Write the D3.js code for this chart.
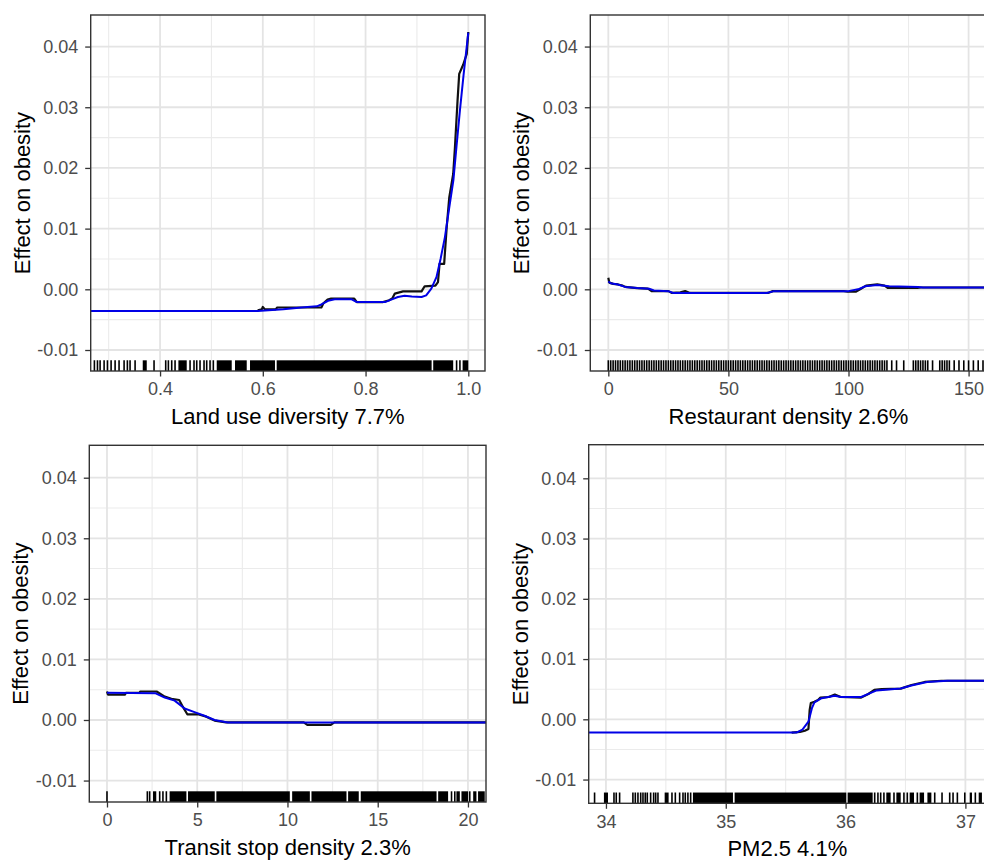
<!DOCTYPE html>
<html>
<head>
<meta charset="utf-8">
<script src="https://cdn.jsdelivr.net/npm/d3@7"></script>
<style>
  html, body { margin: 0; padding: 0; background: #ffffff; }
  svg { display: block; font-family: "Liberation Sans", Arial, sans-serif; }
</style>
</head>
<body>
<svg id="chart" width="984" height="860"></svg>
<script>
// ---- Partial dependence of obesity on four built-environment variables ----

const yTickValues = [-0.01, 0, 0.01, 0.02, 0.03, 0.04];
const yMinorValues = [-0.005, 0.005, 0.015, 0.025, 0.035];
const yTitle = "Effect on obesity";

// Land use diversity
const landUseTitle = "Land use diversity 7.7%";
const landUseTicks = [0.4, 0.6, 0.8, 1.0];
const landUseMinor = [0.3, 0.5, 0.7, 0.9];
const landUsePdp = [
  [0.590, -0.00346], [0.598, -0.00330], [0.600, -0.00290], [0.604, -0.00330],
  [0.625, -0.00330], [0.628, -0.00300], [0.690, -0.00300], [0.714, -0.00300],
  [0.718, -0.00230], [0.726, -0.00170], [0.733, -0.00153], [0.778, -0.00153],
  [0.783, -0.00210], [0.834, -0.00210], [0.846, -0.00180], [0.852, -0.00150],
  [0.857, -0.00070], [0.873, -0.00035], [0.909, -0.00035], [0.915, 0.00050],
  [0.936, 0.00060], [0.941, 0.00120], [0.944, 0.00420], [0.953, 0.00420],
  [0.958, 0.01030], [0.963, 0.01520], [0.9706, 0.01900], [0.974, 0.02340],
  [0.979, 0.03100], [0.9823, 0.03550], [0.990, 0.03700], [0.997, 0.03880],
  [1.000, 0.04240]
];
const landUseSmooth = [
  [0.265, -0.00357], [0.590, -0.00357], [0.640, -0.00330], [0.675, -0.00300],
  [0.705, -0.00280], [0.714, -0.00250], [0.727, -0.00190], [0.740, -0.00165],
  [0.773, -0.00165], [0.783, -0.00210], [0.838, -0.00210], [0.850, -0.00170],
  [0.863, -0.00127], [0.876, -0.00105], [0.890, -0.00120], [0.909, -0.00127],
  [0.918, -0.00100], [0.928, 0.00010], [0.938, 0.00200], [0.946, 0.00500],
  [0.9545, 0.00860], [0.963, 0.01350], [0.971, 0.01800], [0.977, 0.02350],
  [0.9837, 0.02950], [0.991, 0.03550], [1.000, 0.04230]
];
const landUseRug = [
  0.2722, 0.2782, 0.2833, 0.2911, 0.2976, 0.3047, 0.3125, 0.3202, 0.3300,
  0.3364, 0.3416, 0.3514, 0.3883, 0.4110, 0.4162, 0.4227, 0.4292, 0.4584,
  0.4661, 0.4714, 0.4778, 0.4856, 0.4908, 0.4973, 0.5037, 0.9772, 0.9837
];
const landUseRugBands = [
  [0.3663, 0.3741], [0.4357, 0.4519], [0.5103, 0.5395], [0.5459, 0.5687],
  [0.5751, 0.6237], [0.6270, 0.9286], [0.9317, 0.9706], [0.9889, 1.0000]
];

// Restaurant density
const restaurantTitle = "Restaurant density 2.6%";
const restaurantTicks = [0, 50, 100, 150];
const restaurantMinor = [25, 75, 125];
const restaurantPdp = [
  [0, 0.0019], [0.4, 0.0011], [2, 0.0009], [4, 0.0008], [6, 0.0006], [7, 0.0004],
  [12, 0.0002], [16.5, 0.0001], [18, -0.0003], [25, -0.0003], [26.5, -0.0006],
  [30, -0.0005], [32, -0.0003], [34, -0.0006], [66.4, -0.0006], [68.5, -0.0003],
  [98, -0.0003], [99.7, -0.0004], [103, -0.0004], [105.2, 0.0001], [107.3, 0.0006],
  [112, 0.0008], [115, 0.0006], [116.3, 0.00025], [128.7, 0.00025], [130.2, 0.0003],
  [157.5, 0.0003]
];
const restaurantSmooth = [
  [0, 0.0013], [1, 0.0010], [4, 0.0008], [7, 0.0004], [12, 0.0002], [17, 0.0001],
  [19, -0.0002], [25, -0.0003], [27, -0.0006], [66, -0.0006], [69, -0.0003],
  [100, -0.0003], [104, 0.0000], [107, 0.0005], [112, 0.0007], [117, 0.0005],
  [129, 0.0004], [131, 0.0003], [157.5, 0.0003]
];
const restaurantRug = [
  0, 1, 2, 3, 4, 5, 6, 7, 8, 9, 10, 11, 12, 13, 14, 15, 16, 17, 18, 19,
  20, 21, 22, 23, 24, 25, 26, 27, 28, 29, 30, 31, 32, 33, 34, 35, 36, 37, 38, 39,
  40, 41, 42, 43, 44, 45, 46, 47, 48, 49, 50, 51, 52, 53, 54, 55, 56, 57, 58, 59,
  60, 61, 62, 63, 64, 65, 66, 67, 68, 69, 70, 71, 72, 73, 74, 75, 76, 77, 78, 79,
  80, 81, 82, 83, 84, 85, 86, 87, 88, 89, 90, 91, 92, 93, 94, 95, 96, 97, 98, 99,
  100, 101, 102, 103, 104, 105, 106, 107, 108, 109, 110, 111, 112, 113, 114, 115, 116,
  118, 120, 123, 127, 128, 129, 130, 131, 132, 133, 135, 138, 139, 140, 141, 142, 144,
  146, 148, 150, 152, 154, 156
];
const restaurantRugBands = [];

// Transit stop density
const transitTitle = "Transit stop density 2.3%";
const transitTicks = [0, 5, 10, 15, 20];
const transitMinor = [2.5, 7.5, 12.5, 17.5];
const transitPdp = [
  [0, 0.0047], [0.05, 0.0042], [1.0, 0.0042], [1.05, 0.0045], [1.8, 0.0045],
  [1.85, 0.0047], [2.75, 0.0047], [3.2, 0.00385], [3.57, 0.0035], [4.0, 0.0033],
  [4.2, 0.0022], [4.45, 0.00094], [5.04, 0.00094], [5.5, 0.00055], [5.96, -0.0001],
  [6.6, -0.0004], [10.9, -0.0004], [11.1, -0.0008], [12.4, -0.0008], [12.6, -0.0004],
  [21.0, -0.0004]
];
const transitSmooth = [
  [0, 0.0045], [2.7, 0.0044], [3.2, 0.0037], [3.75, 0.0032], [4.3, 0.0019],
  [4.85, 0.0013], [5.4, 0.0007], [5.96, 0.0000], [6.7, -0.0004], [21.0, -0.0004]
];
const transitRug = [0, 2.236, 2.365, 2.92, 3.10, 3.29, 19.09, 19.27, 20.10];
const transitRugBands = [
  [2.55, 2.73], [3.47, 4.40], [4.49, 5.97], [6.06, 10.13], [10.26, 11.24],
  [11.33, 13.27], [13.36, 13.95], [14.06, 18.26], [18.35, 18.90], [19.36, 19.55],
  [19.64, 20.01], [20.29, 20.47], [20.56, 20.93]
];

// PM2.5
const pmTitle = "PM2.5 4.1%";
const pmTicks = [34, 35, 36, 37];
const pmMinor = [34.5, 35.5, 36.5];
const pmPdp = [
  [35.55, -0.0022], [35.62, -0.0021], [35.66, -0.0019], [35.69, -0.0016],
  [35.70, 0.0015], [35.71, 0.0027], [35.74, 0.0029], [35.77, 0.0032],
  [35.79, 0.0036], [35.86, 0.0037], [35.91, 0.0041], [35.96, 0.0037],
  [36.13, 0.0036], [36.19, 0.0042], [36.24, 0.0049], [36.30, 0.0050],
  [36.46, 0.0051], [36.55, 0.0057], [36.66, 0.0062], [36.80, 0.0064], [37.17, 0.0064]
];
const pmSmooth = [
  [33.856, -0.0022], [35.59, -0.0022], [35.64, -0.0017], [35.69, -0.0004],
  [35.72, 0.0019], [35.74, 0.0028], [35.80, 0.0035], [35.91, 0.0039],
  [35.96, 0.0037], [36.13, 0.0037], [36.20, 0.0043], [36.26, 0.0048],
  [36.46, 0.0051], [36.55, 0.0056], [36.68, 0.0062], [36.85, 0.0064], [37.17, 0.0064]
];
const pmRug = [
  33.905, 34.067, 34.086, 34.114, 34.225, 34.245, 34.267, 34.290, 34.309, 34.328,
  34.345, 34.373, 34.398, 34.415, 34.434, 34.551, 34.579, 34.615, 34.643, 34.662,
  34.684, 34.707, 36.243, 36.270, 36.293, 36.320, 36.404, 36.487, 36.515, 36.599,
  36.744, 36.805, 36.869, 36.897, 36.933, 36.995, 37.083
];
const pmRugBands = [
  [33.983, 34.017], [34.490, 34.523], [34.726, 35.060], [35.074, 36.006],
  [36.017, 36.226], [36.340, 36.376], [36.424, 36.460], [36.535, 36.571],
  [36.618, 36.655], [36.683, 36.716], [37.036, 37.055], [37.111, 37.138]
];

// ---- layout of the four panels ----
const panels = [
  { id: "p1", box: [90.7, 15, 485, 371], xDomain: [0.265, 1.0325], yDomain: [-0.01346, 0.0452],
    xTicks: landUseTicks, xMinor: landUseMinor, xFormat: d3.format(".1f"), title: landUseTitle,
    pdp: landUsePdp, smooth: landUseSmooth, rug: landUseRug, bands: landUseRugBands },
  { id: "p2", box: [590.3, 15, 986.6, 371], xDomain: [-7.5, 157.5], yDomain: [-0.01346, 0.0452],
    xTicks: restaurantTicks, xMinor: restaurantMinor, xFormat: d3.format("d"), title: restaurantTitle,
    pdp: restaurantPdp, smooth: restaurantSmooth, rug: restaurantRug, bands: restaurantRugBands },
  { id: "p3", box: [89.3, 445.3, 486, 802], xDomain: [-0.98, 21.0], yDomain: [-0.01354, 0.04535],
    xTicks: transitTicks, xMinor: transitMinor, xFormat: d3.format("d"), title: transitTitle,
    pdp: transitPdp, smooth: transitSmooth, rug: transitRug, bands: transitRugBands },
  { id: "p4", box: [588.7, 444.7, 986, 803.3], xDomain: [33.856, 37.172], yDomain: [-0.01394, 0.04558],
    xTicks: pmTicks, xMinor: pmMinor, xFormat: d3.format("d"), title: pmTitle,
    pdp: pmPdp, smooth: pmSmooth, rug: pmRug, bands: pmRugBands }
];

const svg = d3.select("#chart");
const defs = svg.append("defs");
// plain hyphen-minus for negative tick labels
const yFormat = v => d3.format(".2f")(v).replace("\u2212", "-");

panels.forEach(p => {
  const [x0, y0, x1, y1] = p.box;
  const x = d3.scaleLinear().domain(p.xDomain).range([x0, x1]);
  const y = d3.scaleLinear().domain(p.yDomain).range([y1, y0]);
  const g = svg.append("g");

  defs.append("clipPath").attr("id", "clip-" + p.id)
    .append("rect").attr("x", x0).attr("y", y0).attr("width", x1 - x0).attr("height", y1 - y0);

  // grid: minor first, then major
  const grid = g.append("g");
  grid.selectAll(".xminor").data(p.xMinor).join("line")
    .attr("x1", d => x(d)).attr("x2", d => x(d)).attr("y1", y0).attr("y2", y1)
    .attr("stroke", "#ebebeb").attr("stroke-width", 1.1);
  grid.selectAll(".yminor").data(yMinorValues).join("line")
    .attr("y1", d => y(d)).attr("y2", d => y(d)).attr("x1", x0).attr("x2", x1)
    .attr("stroke", "#ebebeb").attr("stroke-width", 1.1);
  grid.selectAll(".xmajor").data(p.xTicks).join("line")
    .attr("x1", d => x(d)).attr("x2", d => x(d)).attr("y1", y0).attr("y2", y1)
    .attr("stroke", "#e4e4e4").attr("stroke-width", 1.8);
  grid.selectAll(".ymajor").data(yTickValues).join("line")
    .attr("y1", d => y(d)).attr("y2", d => y(d)).attr("x1", x0).attr("x2", x1)
    .attr("stroke", "#e4e4e4").attr("stroke-width", 1.8);

  const plot = g.append("g").attr("clip-path", "url(#clip-" + p.id + ")");

  // rug along the bottom of the panel
  const rugLen = (y1 - y0) * 0.03;
  plot.append("g").selectAll("rect").data(p.bands).join("rect")
    .attr("x", d => x(d[0])).attr("width", d => Math.max(1.6, x(d[1]) - x(d[0])))
    .attr("y", y1 - rugLen).attr("height", rugLen).attr("fill", "#000");
  plot.append("g").selectAll("line").data(p.rug).join("line")
    .attr("x1", d => x(d)).attr("x2", d => x(d)).attr("y1", y1 - rugLen).attr("y2", y1)
    .attr("stroke", "#000").attr("stroke-width", 1.6);

  const line = d3.line().x(d => x(d[0])).y(d => y(d[1]));
  plot.append("path").datum(p.pdp).attr("d", line)
    .attr("fill", "none").attr("stroke", "#111").attr("stroke-width", 2.2)
    .attr("stroke-linejoin", "round");
  plot.append("path").datum(p.smooth).attr("d", line)
    .attr("fill", "none").attr("stroke", "#0000e6").attr("stroke-width", 2)
    .attr("stroke-linejoin", "round");

  // axes
  const xAxis = d3.axisBottom(x).tickValues(p.xTicks).tickFormat(p.xFormat)
    .tickSizeInner(5.5).tickSizeOuter(0).tickPadding(6);
  const gx = g.append("g").attr("transform", `translate(0,${y1})`).call(xAxis);
  const yAxis = d3.axisLeft(y).tickValues(yTickValues).tickFormat(yFormat)
    .tickSizeInner(5.5).tickSizeOuter(0).tickPadding(7);
  const gy = g.append("g").attr("transform", `translate(${x0},0)`).call(yAxis);
  [gx, gy].forEach(ax => {
    ax.select(".domain").remove();
    ax.selectAll(".tick line").attr("stroke", "#333").attr("stroke-width", 1.3);
    ax.selectAll(".tick text").attr("fill", "#4d4d4d")
      .style("font-size", "18px").style("font-family", '"Liberation Sans", Arial, sans-serif');
  });

  // panel border
  g.append("rect").attr("x", x0).attr("y", y0).attr("width", x1 - x0).attr("height", y1 - y0)
    .attr("fill", "none").attr("stroke", "#333").attr("stroke-width", 1.4);

  // axis titles
  g.append("text").attr("x", (x0 + x1) / 2).attr("y", y1 + 52.5)
    .attr("text-anchor", "middle").attr("fill", "#000").style("font-size", "22px")
    .text(p.title);
  g.append("text")
    .attr("transform", `translate(${x0 - 61},${(y0 + y1) / 2}) rotate(-90)`)
    .attr("text-anchor", "middle").attr("fill", "#000").style("font-size", "22px")
    .text(yTitle);
});
</script>
</body>
</html>
